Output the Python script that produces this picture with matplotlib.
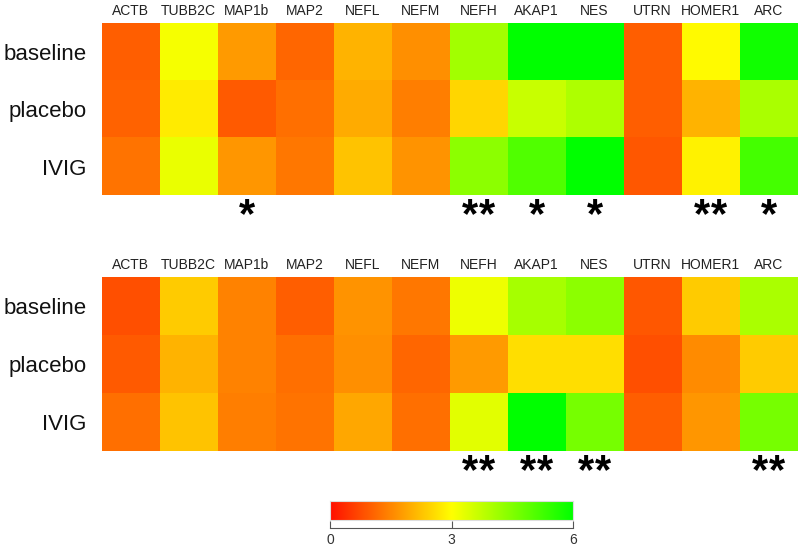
import matplotlib
matplotlib.use("Agg")
import matplotlib.pyplot as plt
import numpy as np
from matplotlib.colors import LinearSegmentedColormap

plt.rcParams['font.family'] = ['Liberation Sans', 'DejaVu Sans']

genes = ['ACTB', 'TUBB2C', 'MAP1b', 'MAP2', 'NEFL', 'NEFM',
         'NEFH', 'AKAP1', 'NES', 'UTRN', 'HOMER1', 'ARC']
groups = ['baseline', 'placebo', 'IVIG']

# upper panel
top_baseline = [1.0, 3.1, 1.75, 1.1, 2.05, 1.6, 4.1, 6.0, 6.0, 1.0, 2.95, 5.8]
top_placebo = [1.05, 2.75, 0.95, 1.2, 1.95, 1.4, 2.5, 3.65, 3.95, 1.0, 2.05, 4.0]
top_ivig = [1.25, 3.25, 1.7, 1.3, 2.25, 1.65, 4.35, 5.05, 6.0, 0.9, 2.85, 5.2]
top_stars = [0, 0, 1, 0, 0, 0, 2, 1, 1, 0, 2, 1]

# lower panel
bot_baseline = [0.8, 2.35, 1.45, 1.0, 1.65, 1.3, 3.2, 4.05, 4.35, 0.9, 2.35, 4.0]
bot_placebo = [0.95, 2.05, 1.45, 1.2, 1.6, 1.1, 1.75, 2.6, 2.6, 0.8, 1.55, 2.35]
bot_ivig = [1.2, 2.25, 1.4, 1.25, 1.9, 1.2, 3.35, 6.0, 4.6, 1.0, 1.7, 4.6]
bot_stars = [0, 0, 0, 0, 0, 0, 2, 2, 2, 0, 0, 2]

cbar_ticks = [0, 3, 6]

cmap = LinearSegmentedColormap.from_list('ryg', ['#ff1000', '#ffff00', '#00ff00'])

fig = plt.figure(figsize=(8, 5.5), dpi=100)


def panel(rect, rows, stars):
    ax = fig.add_axes(rect)
    data = np.array(rows)
    ax.imshow(data, cmap=cmap, vmin=0, vmax=6, aspect='auto',
              interpolation='nearest')
    ax.set_xticks(range(len(genes)))
    ax.set_xticklabels(genes, fontsize=10, color='#222222')
    ax.xaxis.tick_top()
    ax.tick_params(axis='x', length=0, pad=4)
    ax.set_yticks(range(len(groups)))
    ax.set_yticklabels(groups, fontsize=16, color='#111111')
    ax.tick_params(axis='y', length=0, pad=11)
    for s in ax.spines.values():
        s.set_visible(False)
    # significance marks under the columns
    for i, n in enumerate(stars):
        offs = [0.0] if n == 1 else ([-0.15, 0.15] if n == 2 else [])
        for o in offs:
            ax.text(i + o, 2.5 + 0.02, '*', ha='center', va='top', fontsize=30,
                    fontweight='bold', color='black')
    return ax


panel([0.127, 0.645, 0.870, 0.313], [top_baseline, top_placebo, top_ivig], top_stars)
panel([0.127, 0.180, 0.870, 0.316], [bot_baseline, bot_placebo, bot_ivig], bot_stars)

# colour key
cax = fig.add_axes([0.4125, 0.055, 0.304, 0.035])
grad = np.linspace(0, 6, 256).reshape(1, -1)
cax.imshow(grad, cmap=cmap, vmin=0, vmax=6, aspect='auto',
           extent=[0, 6, 0, 1])
cax.set_xticks([])
cax.set_yticks([])
for s in cax.spines.values():
    s.set_color('#dddddd')

kax = fig.add_axes([0.4125, 0.02, 0.304, 0.035])
kax.set_xlim(0, 6)
kax.set_ylim(0, 1)
kax.patch.set_visible(False)
for side in ['top', 'left', 'right']:
    kax.spines[side].set_visible(False)
kax.spines['bottom'].set_position(('data', 0.55))
kax.spines['bottom'].set_color('#555555')
kax.set_xticks(cbar_ticks)
kax.set_xticklabels([str(t) for t in cbar_ticks], fontsize=10, color='#333333')
kax.tick_params(axis='x', direction='in', length=5, color='#555555', pad=3)
kax.set_yticks([])

fig.savefig('out.png', dpi=100)
